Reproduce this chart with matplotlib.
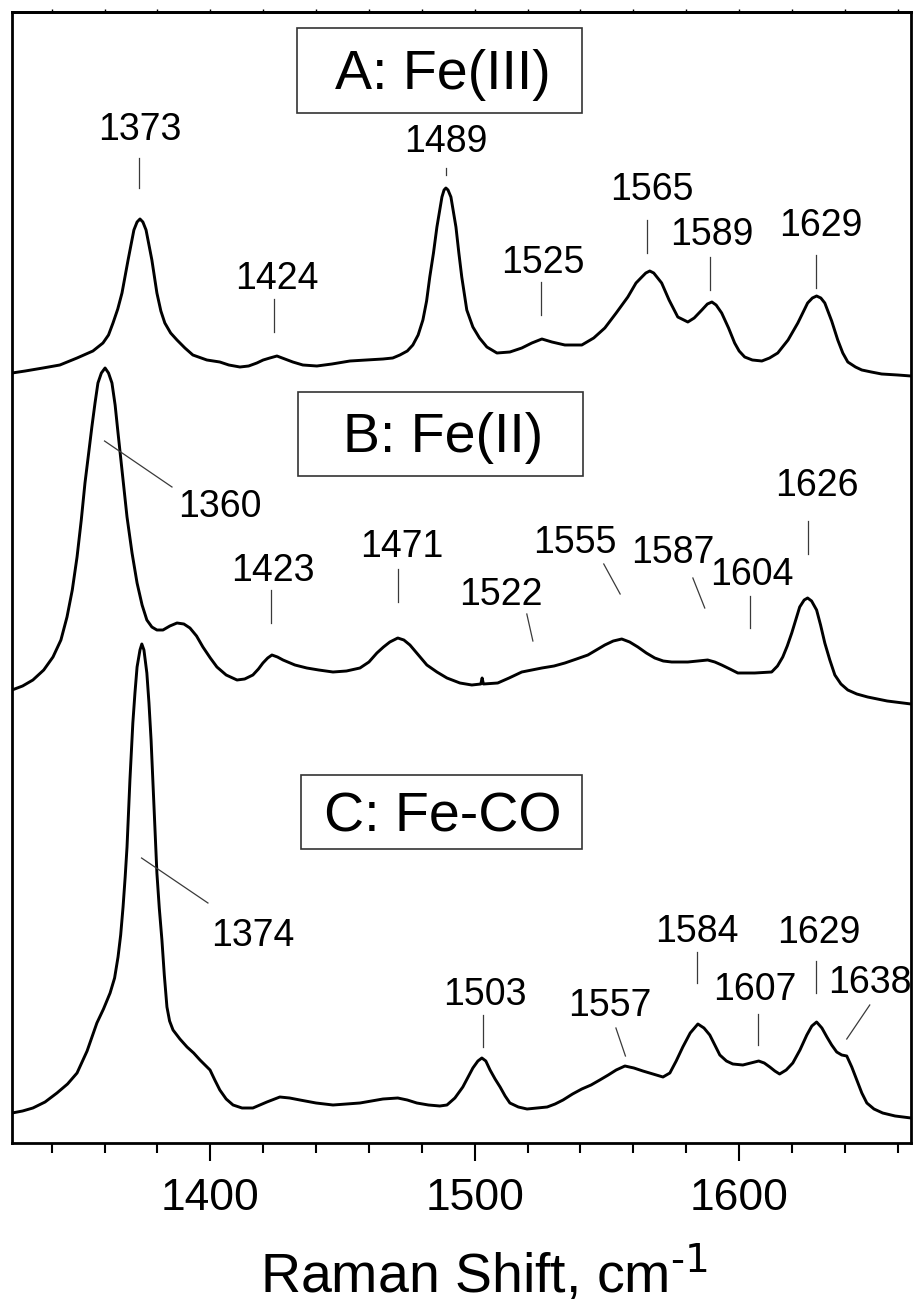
import numpy as np
import matplotlib
matplotlib.use("Agg")
import matplotlib.pyplot as plt
from matplotlib.patches import Rectangle
from matplotlib.ticker import MultipleLocator

plt.rcParams['font.family'] = ['Liberation Sans', 'DejaVu Sans']
plt.rcParams['mathtext.default'] = 'regular'

# Raman spectra (arbitrary intensity units), wavenumber in cm-1
shift_a = [1325, 1330, 1336.7, 1343.1, 1349.6, 1355.6, 1359.4, 1361.5, 1363.2, 1365.0,
           1366.6, 1368.9, 1371.1, 1372.3, 1373.4, 1374.5, 1375.7, 1377.9, 1379.8, 1381.3,
           1382.8, 1385.0, 1387.4, 1390.4, 1393.4, 1398.7, 1403.6, 1407.0, 1411.2, 1414.5,
           1417.6, 1420.0, 1422.5, 1425.2, 1428.2, 1431.2, 1435.0, 1440.3, 1446.0, 1452.8,
           1459.0, 1465.3, 1469.0, 1471.7, 1474.5, 1476.6, 1478.6, 1480.4, 1481.8, 1483.0,
           1484.4, 1485.7, 1487.6, 1488.4, 1489.1, 1489.9, 1491.0, 1492.9, 1494.0, 1495.1,
           1497.0, 1499.3, 1501.8, 1504.6, 1508.4, 1513.3, 1517.8, 1521.6, 1525.4, 1529.2,
           1534.1, 1540.5, 1545.0, 1549.2, 1553.5, 1557.9, 1561.0, 1563.2, 1564.7, 1566.2,
           1567.7, 1570.7, 1573.5, 1576.8, 1580.6, 1583.0, 1585.9, 1588.0, 1589.7, 1591.3,
           1593.4, 1596.0, 1598.3, 1600.0, 1602.1, 1605.0, 1608.6, 1611.5, 1614.6, 1618.5,
           1622.2, 1625.9, 1627.7, 1629.3, 1630.9, 1632.4, 1635.0, 1637.3, 1639.2, 1641.1,
           1644.0, 1646.4, 1650.0, 1653.9, 1660.0, 1665]
int_a = [10, 12, 15, 18, 25, 32, 40, 48, 60, 74,
         90, 123, 153, 161, 164, 161, 153, 123, 90, 72,
         60, 50, 43, 35, 28, 23, 21, 18, 16, 17,
         20, 23, 25, 27, 24, 21, 18, 17, 19, 22,
         23, 24, 25, 28, 32, 38, 48, 63, 82, 106,
         130, 156, 186, 193, 195, 193, 186, 156, 130, 106,
         73, 56, 45, 36, 30, 31, 35, 40, 44, 41,
         38, 38, 45, 55, 70, 86, 100, 106, 110, 112,
         110, 100, 83, 66, 61, 65, 73, 79, 81, 78,
         70, 55, 40, 32, 26, 23, 22, 25, 30, 43,
         60, 80, 85, 87, 85, 80, 62, 43, 30, 21,
         16, 13, 11, 9, 8, 7]

shift_b = [1325, 1329, 1332.9, 1337, 1340.5, 1343.5, 1345.8, 1347.8, 1349.6, 1351.2,
           1352.6, 1354, 1355.2, 1356.4, 1357.5, 1358.8, 1360.2, 1361.5, 1362.8, 1364,
           1365.1, 1366.8, 1368.5, 1370.4, 1372.3, 1374.2, 1376.0, 1377.9, 1379.8, 1382.1,
           1384.7, 1387.4, 1390, 1392.3, 1394.8, 1397.2, 1400, 1402.5, 1406, 1410.1,
           1413, 1416.1, 1418.2, 1419.9, 1421.7, 1423.3, 1425.4, 1427.5, 1432, 1436.5,
           1441, 1446.4, 1451.5, 1456.6, 1460, 1463.0, 1465.5, 1467.9, 1470.9, 1473.2,
           1475.5, 1478.7, 1481.9, 1485.7, 1489.5, 1494.4, 1498.9, 1502.3, 1502.8, 1503.3,
           1508.7, 1513, 1517.8, 1521.6, 1525.4, 1530, 1534.1, 1538.5, 1542.8, 1546,
           1549.2, 1552.4, 1555.6, 1558.6, 1561.7, 1564.9, 1568.1, 1571.3, 1574.5, 1580.6,
           1584.4, 1588.1, 1590.8, 1593.4, 1596.5, 1599.5, 1605.9, 1612.3, 1614.5, 1616.5,
           1618.2, 1619.9, 1621.4, 1622.9, 1624.6, 1625.9, 1627.4, 1629.3, 1630.8, 1632.4,
           1634.3, 1636.2, 1638.5, 1641.1, 1644.5, 1648.6, 1656, 1665]
int_b = [13, 17, 23, 33, 46, 63, 86, 113, 146, 183,
         220, 250, 276, 300, 320, 330, 335, 330, 320, 298,
         270, 228, 186, 150, 120, 98, 83, 76, 73, 73,
         77, 80, 79, 75, 67, 56, 45, 36, 28, 23,
         24, 28, 34, 40, 45, 48, 46, 43, 38, 35,
         33, 31, 32, 35, 41, 50, 56, 61, 65, 63,
         58, 48, 38, 31, 25, 20, 18, 19, 25, 19,
         20, 25, 31, 33, 35, 37, 40, 44, 48, 53,
         58, 62, 64, 61, 56, 50, 45, 42, 41, 41,
         42, 43, 41, 38, 34, 30, 30, 31, 37, 46,
         57, 70, 83, 96, 103, 105, 102, 93, 78, 60,
         43, 28, 19, 13, 9, 6, 2, -1]

shift_c = [1325, 1329, 1332.9, 1337.5, 1342.0, 1346, 1349.6, 1353.4, 1357.1, 1359.6,
           1362.1, 1363.8, 1365.1, 1366.1, 1367.0, 1367.8, 1368.5, 1369.6, 1370.7, 1371.5,
           1372.3, 1373.4, 1374.1, 1374.9, 1376.0, 1376.8, 1377.6, 1378.7, 1379.8, 1380.7,
           1381.7, 1382.6, 1383.6, 1384.6, 1385.9, 1388.5, 1391.2, 1393.7, 1396.1, 1398,
           1399.9, 1401.7, 1403.6, 1406, 1408.6, 1412, 1416.1, 1421.4, 1426.3, 1430,
           1433.9, 1440, 1446.4, 1451.5, 1456.6, 1461, 1465.3, 1470.9, 1474.5, 1478.1,
           1482.5, 1486.8, 1489.5, 1492.5, 1495.5, 1497.5, 1499.3, 1501.2, 1502.7, 1504.2,
           1505.8, 1507.7, 1509.6, 1511.5, 1513.3, 1516.5, 1519.8, 1523.6, 1527.4, 1530.4,
           1533.4, 1537, 1540.5, 1544, 1547.3, 1550.5, 1553.5, 1556.8, 1560.2, 1563.6,
           1567.4, 1571.2, 1573.8, 1576.2, 1578.7, 1581.5, 1584.4, 1586.7, 1588.9, 1590.8,
           1592.7, 1595.2, 1597.6, 1601.4, 1604.4, 1607.4, 1609.5, 1611.6, 1613.5, 1615.3,
           1617.8, 1620.3, 1623, 1625.6, 1627.5, 1629.3, 1631.3, 1633.2, 1635, 1636.9,
           1638.8, 1640.7, 1642.6, 1644.5, 1646.4, 1648.3, 1651, 1654.3, 1659, 1665]
int_c = [0, 2, 5, 11, 20, 29, 40, 62, 90, 104,
         120, 135, 156, 178, 206, 236, 266, 333, 390, 420,
         446, 463, 469, 463, 440, 410, 373, 306, 240, 205,
         173, 138, 106, 92, 83, 74, 66, 60, 53, 48,
         43, 33, 23, 14, 8, 5, 5, 11, 16, 15,
         13, 10, 8, 9, 10, 12, 14, 15, 13, 10,
         8, 7, 8, 15, 26, 36, 45, 52, 55, 52,
         43, 34, 26, 17, 10, 6, 4, 5, 6, 9,
         13, 19, 24, 28, 33, 38, 43, 47, 45, 42,
         39, 36, 40, 52, 66, 80, 89, 85, 78, 68,
         58, 52, 49, 48, 50, 52, 50, 46, 42, 39,
         43, 50, 63, 78, 87, 91, 85, 76, 68, 61,
         58, 57, 46, 33, 20, 10, 4, 0, -3, -5]

# vertical offsets used to stack the three traces
offset_a, offset_b, offset_c = 760, 440, 30

# peak labels: text, text x, text baseline y, leader start (x, y), leader end (x, y)
peaks_a = [("1373", 1373.4, 1003, 1373, 985, 1373, 955),
           ("1424", 1425.0, 854, 1424, 844, 1424, 811),
           ("1489", 1489.0, 991, 1489, 975, 1489, 968),
           ("1525", 1525.8, 870, 1525, 861, 1525, 828),
           ("1565", 1567.0, 943, 1565, 923, 1565, 890),
           ("1589", 1589.7, 898, 1589, 886, 1589, 853),
           ("1629", 1631.0, 907, 1629, 888, 1629, 855)]
peaks_b = [("1360", 1403.6, 626, 1360, 702, 1385.5, 656),
           ("1423", 1423.7, 562, 1423, 553, 1423, 520),
           ("1471", 1472.4, 586, 1471, 574, 1471, 541),
           ("1522", 1509.9, 538, 1519.7, 529, 1522, 502),
           ("1555", 1537.9, 590, 1548.8, 579, 1555, 549),
           ("1587", 1574.9, 580, 1582.5, 565, 1587, 535),
           ("1604", 1604.8, 558, 1604, 547, 1604, 515),
           ("1626", 1629.3, 647, 1626, 622, 1626, 589)]
peaks_c = [("1374", 1416.1, 197, 1374, 285, 1399.1, 240),
           ("1503", 1503.8, 138, 1503, 128, 1503, 96),
           ("1557", 1551.1, 127, 1553.4, 115, 1557, 87),
           ("1584", 1584.0, 201, 1584, 191, 1584, 160),
           ("1607", 1605.9, 143, 1607, 129, 1607, 98),
           ("1629", 1630.1, 200, 1629, 182, 1629, 150),
           ("1638", 1649.4, 150, 1649.4, 138, 1640.7, 104)]

# boxed sample titles: text, text baseline y, box (x0, x1, y0, y1)
titles = [("A: Fe(III)", 1054, (1432.7, 1540.5, 1030, 1115)),
          ("B: Fe(II)", 691, (1433.1, 1540.9, 667, 751)),
          ("C: Fe-CO", 312, (1434.3, 1540.5, 294, 368))]

fig = plt.figure(figsize=(9.15, 13.04), dpi=100)
ax = fig.add_axes([12 / 915, 161 / 1304, 899 / 915, 1131 / 1304])

for x, y, off in [(shift_a, int_a, offset_a), (shift_b, int_b, offset_b), (shift_c, int_c, offset_c)]:
    ax.plot(x, np.array(y) + off, color='black', lw=2.1,
            solid_joinstyle='round', solid_capstyle='round')

for group in (peaks_a, peaks_b, peaks_c):
    for lab, tx, ty, x0, y0, x1, y1 in group:
        ax.plot([x0, x1], [y0, y1], color='#3a3a3a', lw=0.9)
        ax.text(tx, ty, lab, ha='center', va='baseline', fontsize=27)

for name, base, (bx0, bx1, by0, by1) in titles:
    ax.add_patch(Rectangle((bx0, by0), bx1 - bx0, by1 - by0, fill=False,
                           edgecolor='#333333', lw=1.2))
    ax.text(1488, base, name, ha='center', va='baseline', fontsize=40)

ax.set_xlim(1325, 1665)
ax.set_ylim(0, 1131)
ax.set_yticks([])
ax.xaxis.set_major_locator(MultipleLocator(100))
ax.xaxis.set_minor_locator(MultipleLocator(20))
ax.tick_params(axis='x', which='major', direction='out', length=13, width=1.5,
               labelsize=32, pad=12)
ax.tick_params(axis='x', which='minor', direction='out', length=7, width=1.5)
for s in ax.spines.values():
    s.set_linewidth(2)

top = ax.secondary_xaxis('top')
top.xaxis.set_major_locator(MultipleLocator(20))
top.tick_params(axis='x', which='both', direction='out', length=2.5, width=1, labeltop=False)
top.spines['top'].set_linewidth(2)

ax.set_xlabel(r'Raman Shift, cm$^{\text{-1}}$', fontsize=40)
ax.xaxis.set_label_coords(0.525, -0.1326)
ax.xaxis.label.set_verticalalignment('baseline')

fig.savefig('out.png', dpi=100)
